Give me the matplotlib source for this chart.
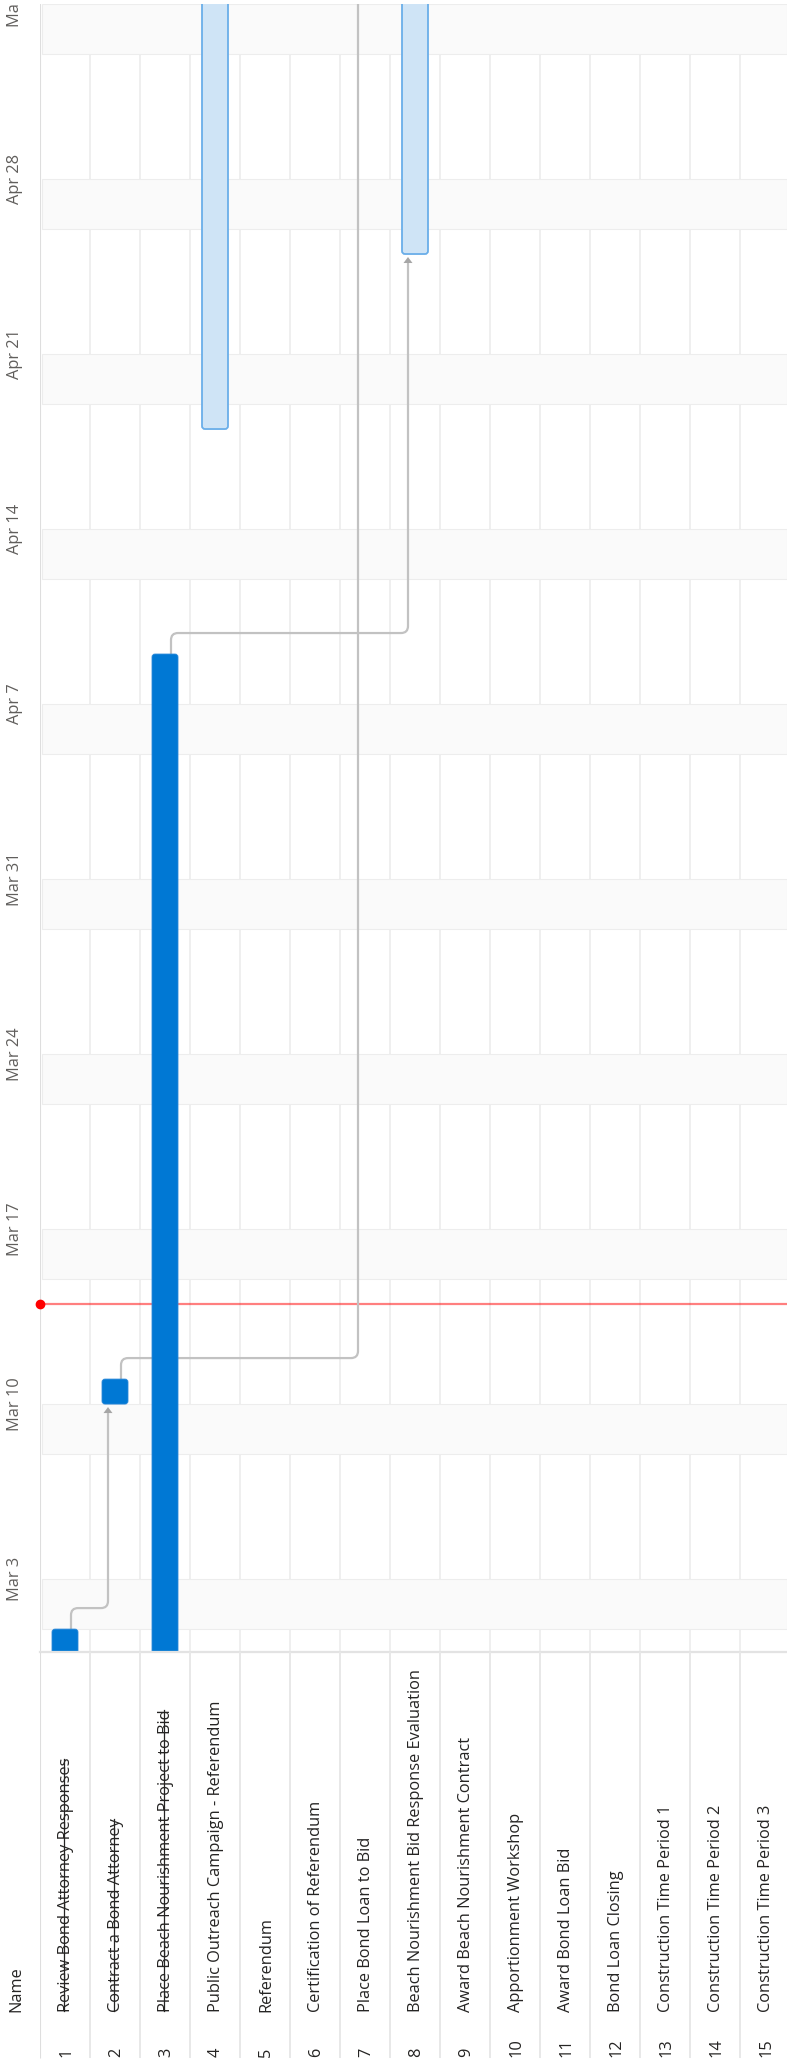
import matplotlib
matplotlib.use("Agg")
import matplotlib.pyplot as plt
import matplotlib.dates as mdates
from matplotlib.patches import FancyBboxPatch, Polygon, Rectangle, PathPatch
from matplotlib.path import Path
from matplotlib.lines import Line2D
import pandas as pd

plt.rcParams['font.family'] = ['Open Sans', 'DejaVu Sans']

# ---------------- data ----------------
task_ids = list(range(1, 16))
task_names = [
    "Review Bond Attorney Responses",
    "Contract a Bond Attorney",
    "Place Beach Nourishment Project to Bid",
    "Public Outreach Campaign - Referendum",
    "Referendum",
    "Certification of Referendum",
    "Place Bond Loan to Bid",
    "Beach Nourishment Bid Response Evaluation",
    "Award Beach Nourishment Contract",
    "Apportionment Workshop",
    "Award Bond Loan Bid",
    "Bond Loan Closing",
    "Construction Time Period 1",
    "Construction Time Period 2",
    "Construction Time Period 3",
]
task_done = [True, True, True, False, False, False, False, False,
             False, False, False, False, False, False, False]
task_start = ["2025-02-24", "2025-03-10", "2025-02-24", "2025-04-18", None, None,
              "2025-05-12", "2025-04-25", None, None, None, None, None, None, None]
task_end = ["2025-02-28", "2025-03-10", "2025-04-08", "2025-05-30", None, None,
            "2025-05-20", "2025-05-30", None, None, None, None, None, None, None]
dependencies = [(1, 2), (2, 7), (3, 8)]
today = "2025-03-14"
view_start = "2025-02-28 02:00"
view_end = "2025-05-05"
week_ticks = pd.date_range("2025-03-03", "2025-05-05", freq="W-MON")
week_labels = [f"{d:%b} {d.day}" for d in week_ticks]

# ---------------- layout ----------------
W, H = 787, 2069
FS = 11.8
DARK = '#0078d4'
LIGHT_FACE = '#cfe4f6'
LIGHT_EDGE = '#6aaee9'
GRID = '#ececec'
TEXT = '#252423'
SUB = '#605e5c'

fig = plt.figure(figsize=(W / 100, H / 100), dpi=100)
ax = fig.add_axes([40 / W, 417 / H, 747 / W, 1648 / H])
ax2 = fig.add_axes([40 / W, 0, 747 / W, 417 / H])

xmax = 747 / 50
ax.set_xlim(0, xmax)
y0n = mdates.date2num(pd.Timestamp(view_start))
y1n = mdates.date2num(pd.Timestamp(view_end))
ax.set_ylim(y0n, y1n)
for s in ax.spines.values():
    s.set_visible(False)
ax.set_xticks([])

rows_per_px = xmax / 747
days_per_px = (y1n - y0n) / 1648

# vertical row grid
for k in range(1, 15):
    ax.axvline(k, color=GRID, lw=1.2, zorder=0.5)
ax.axvline(0.005, color='#dedede', lw=0.8, zorder=0.6)

# weekend bands
d = pd.Timestamp("2025-02-22")
while d < pd.Timestamp(view_end) + pd.Timedelta(days=7):
    if d.weekday() == 5:
        a = mdates.date2num(d)
        ax.axhspan(a, a + 2, xmin=2 / 747, xmax=1, facecolor='#fafafa',
                   edgecolor='#ededed', lw=0.8, zorder=1)
    d += pd.Timedelta(days=1)

# today line
tn = mdates.date2num(pd.Timestamp(today))
ax.axhline(tn, color='#ff0000', alpha=0.5, lw=1.6, zorder=1.5)
ax.plot([0], [tn], 'o', color='#ff0000', ms=6, clip_on=False, zorder=5)

# bars
bar_half = 0.26
rx = 3 * rows_per_px
aspect = days_per_px / rows_per_px
bar_geo = {}
for i, (st, en, done) in enumerate(zip(task_start, task_end, task_done)):
    if st is None:
        continue
    s = mdates.date2num(pd.Timestamp(st))
    e = mdates.date2num(pd.Timestamp(en)) + 1
    xc = i + 0.5
    bar_geo[i + 1] = (xc, s, e)
    if done:
        fc, ec, lw = DARK, '#2b88d8', 0.6
    else:
        fc, ec, lw = LIGHT_FACE, LIGHT_EDGE, 1.3
    p = FancyBboxPatch((xc - bar_half, s), 2 * bar_half, e - s,
                       boxstyle=f"round,pad=0,rounding_size={rx}",
                       mutation_aspect=aspect, facecolor=fc, edgecolor=ec,
                       lw=lw, zorder=3)
    ax.add_patch(p)

# dependency connectors
r_x = 7 * rows_per_px
r_y = 7 * days_per_px
for a_id, b_id in dependencies:
    xa, sa, ea = bar_geo[a_id]
    xb, sb, eb = bar_geo[b_id]
    x0 = xa + 0.12
    x1 = xb - 0.14
    yh = ea + 21 * days_per_px
    ytip = sb - 3 * days_per_px
    ybase = ytip - 6 * days_per_px
    verts = [(x0, ea), (x0, yh - r_y), (x0, yh), (x0 + r_x, yh),
             (x1 - r_x, yh), (x1, yh), (x1, yh + r_y), (x1, ybase)]
    codes = [Path.MOVETO, Path.LINETO, Path.CURVE3, Path.CURVE3,
             Path.LINETO, Path.CURVE3, Path.CURVE3, Path.LINETO]
    ax.add_patch(PathPatch(Path(verts, codes), facecolor='none',
                           edgecolor='#c2c2c2', lw=1.6, zorder=2))
    hw = 4.5 * rows_per_px
    ax.add_patch(Polygon([(x1 - hw, ybase), (x1 + hw, ybase), (x1, ytip)],
                         closed=True, facecolor='#a6a6a6', edgecolor='none',
                         zorder=2.5))

# date ticks
ax.set_yticks(mdates.date2num(week_ticks), labels=week_labels, rotation=90,
              ha='center', va='center')
ax.tick_params(axis='y', length=0, pad=18, labelsize=FS, labelcolor=SUB)

# bottom boundary line
ax.axhline(y0n, color='#e3e3e3', lw=1.6, zorder=4, clip_on=False)

# ---------------- name area ----------------
ax2.set_xlim(0, xmax)
ax2.set_ylim(0, 417)
ax2.axis('off')
ax2.vlines(range(1, 15), 11, 417, color='#e8e8e8', lw=1.4)
ax2.vlines([0.005], 11, 417, color='#dedede', lw=0.8)
name_texts = []
for i, (tid, nm) in enumerate(zip(task_ids, task_names)):
    ax2.text(i + 0.52, 12, str(tid), rotation=90, rotation_mode='anchor',
             ha='left', va='center', fontsize=FS, color=TEXT)
    t = ax2.text(i + 0.52, 57, nm, rotation=90, rotation_mode='anchor',
                 ha='left', va='center', fontsize=FS, color=TEXT)
    name_texts.append(t)
fig.text(16 / W, 57 / H, 'Name', rotation=90, rotation_mode='anchor',
         ha='left', va='center', fontsize=FS, color=TEXT)

# white cover over the clipped top strip
fig.add_artist(Rectangle((0, (H - 4) / H), 1, 4 / H, transform=fig.transFigure,
                         facecolor='white', edgecolor='none', zorder=10))

# strikethrough for completed tasks
fig.canvas.draw()
renderer = fig.canvas.get_renderer()
inv = fig.transFigure.inverted()
for t, done in zip(name_texts, task_done):
    if not done:
        continue
    bb = t.get_window_extent(renderer)
    xc = (bb.x0 + bb.x1) / 2 - 2.5
    (fx, fy0) = inv.transform((xc, bb.y0 + 1))
    (_, fy1) = inv.transform((xc, bb.y1 - 1))
    fig.add_artist(Line2D([fx, fx], [fy0, fy1], transform=fig.transFigure,
                          color=TEXT, lw=0.9, zorder=6))

fig.savefig('out.png', dpi=100)
